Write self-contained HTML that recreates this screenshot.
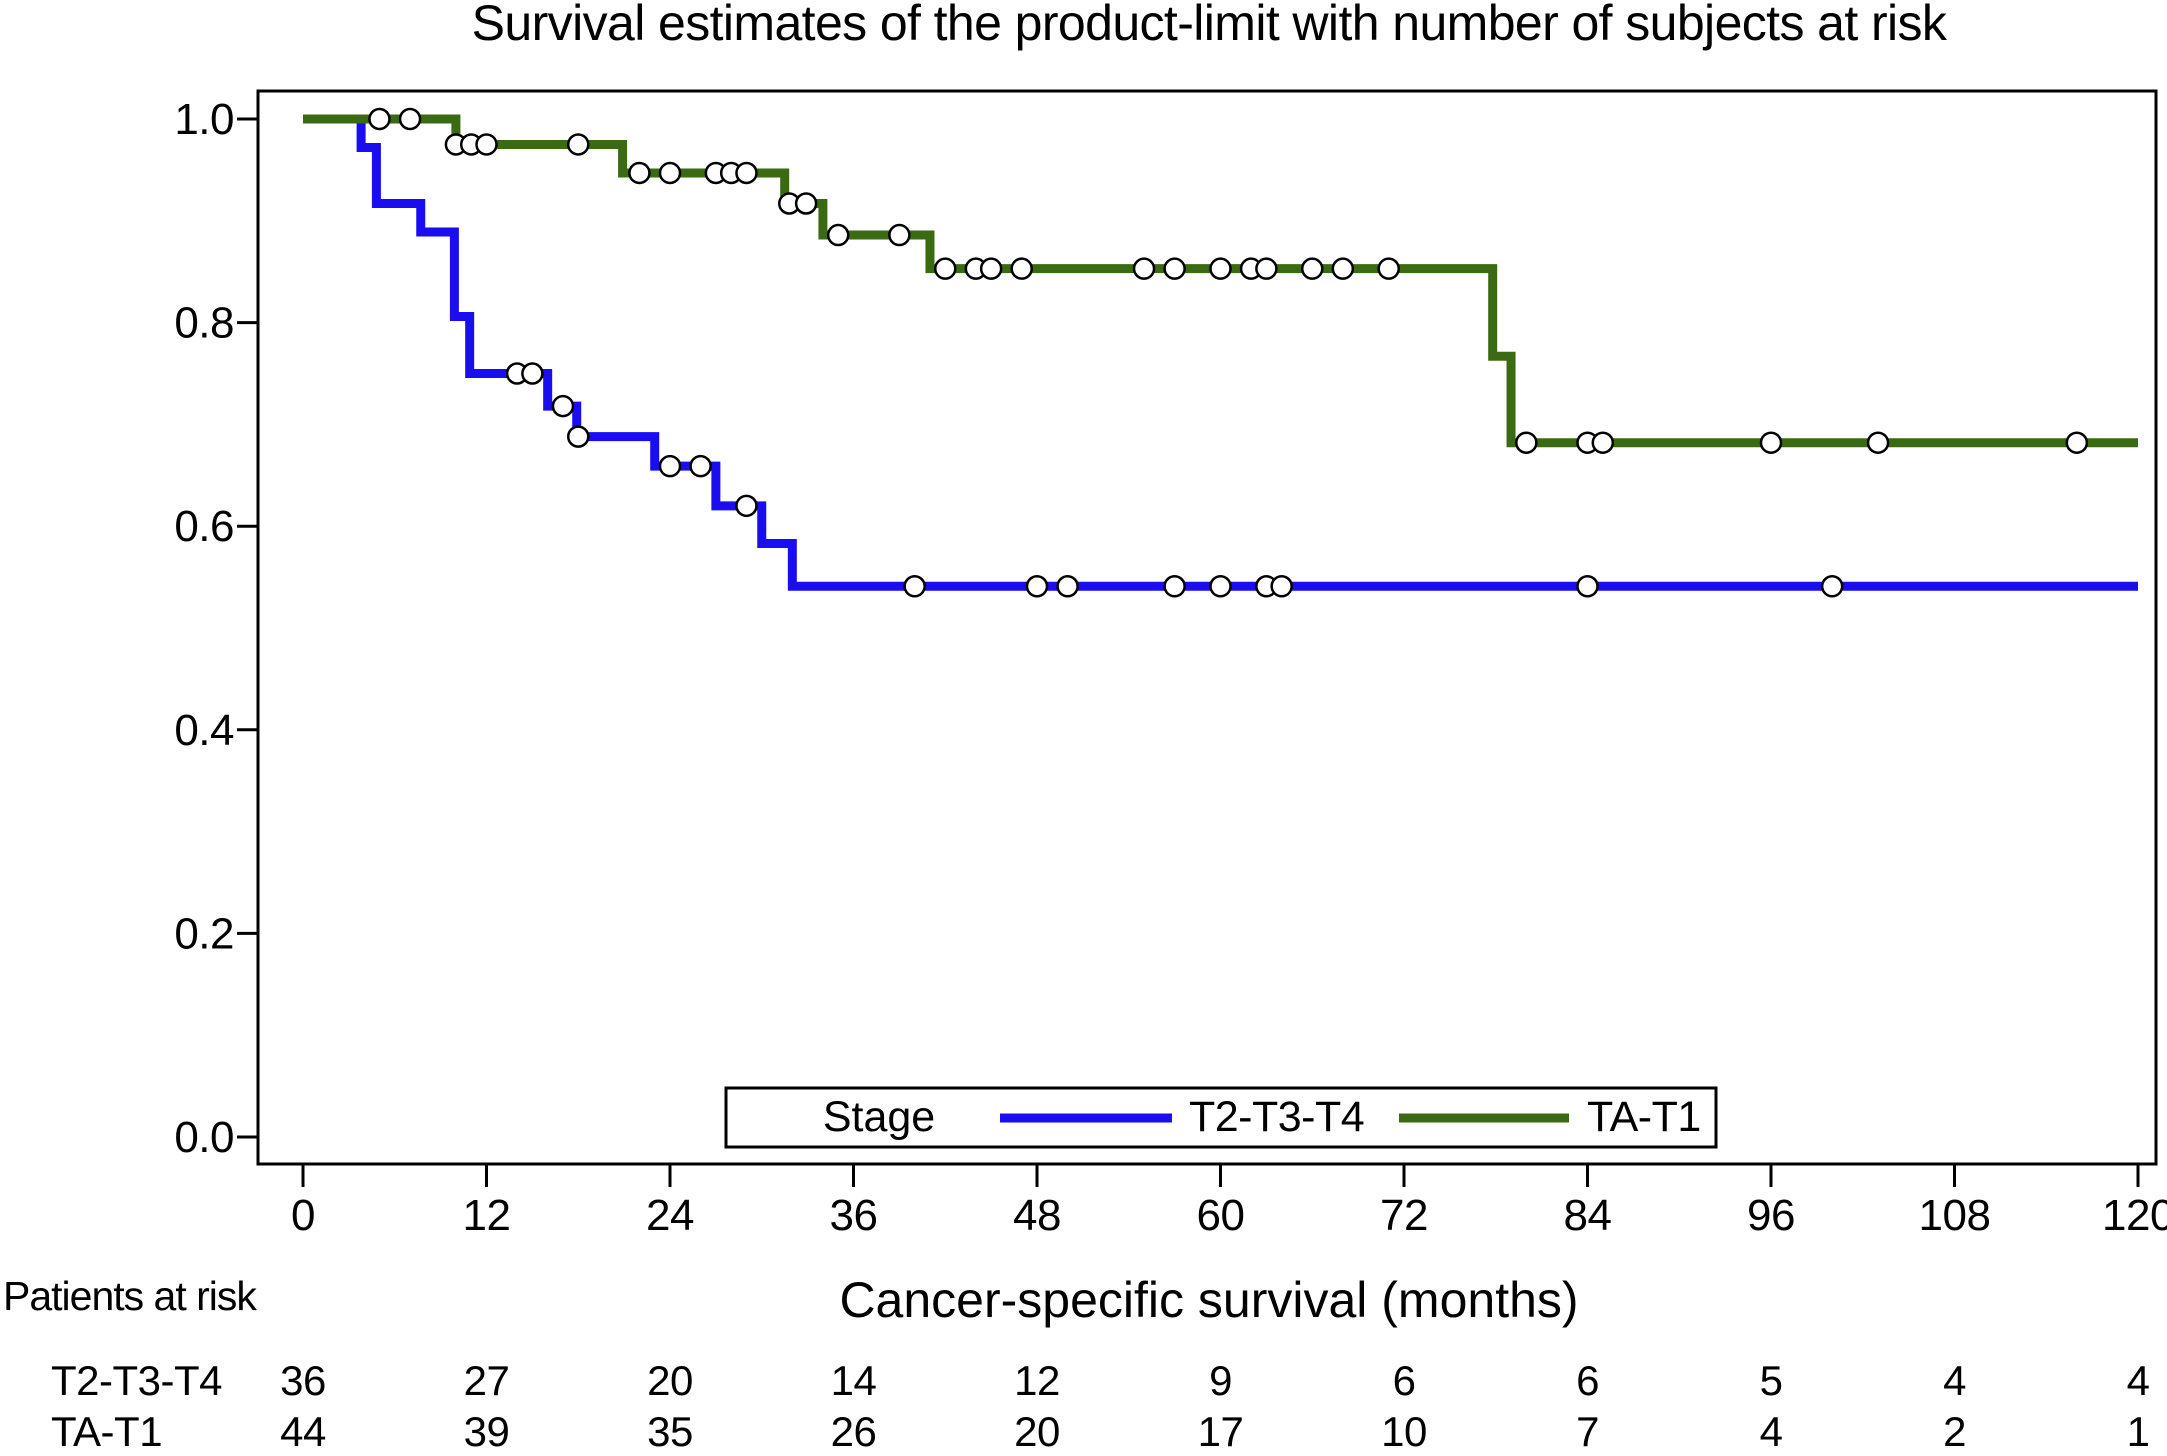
<!DOCTYPE html>
<html><head><meta charset="utf-8">
<style>
html,body{margin:0;padding:0;background:#fff;}
svg{display:block;font-family:"Liberation Sans",Arial,sans-serif;}
</style></head>
<body>
<svg id="chart" width="2167" height="1456" viewBox="0 0 2167 1456" xmlns="http://www.w3.org/2000/svg">
<text x="1209" y="40" font-size="50" text-anchor="middle" letter-spacing="-0.6">Survival estimates of the product-limit with number of subjects at risk</text>
<rect x="258" y="91" width="1898" height="1073" fill="none" stroke="#000" stroke-width="3"/>
<g id="axes"></g>
<g id="series"></g>
<g>
<rect x="726" y="1088" width="990" height="59" fill="#fff" stroke="#000" stroke-width="3"/>
<text x="879" y="1131" font-size="43" text-anchor="middle">Stage</text>
<line x1="1000" y1="1118" x2="1172" y2="1118" stroke="#1a0df0" stroke-width="9"/>
<text x="1189" y="1131" font-size="43" letter-spacing="-0.5">T2-T3-T4</text>
<line x1="1399" y1="1118" x2="1569" y2="1118" stroke="#3a6b12" stroke-width="9"/>
<text x="1587" y="1131" font-size="43" letter-spacing="-0.5">TA-T1</text>
</g>
<text x="1209" y="1317" font-size="50" text-anchor="middle">Cancer-specific survival (months)</text>
<text x="3" y="1310" font-size="41" letter-spacing="-1">Patients at risk</text>
<text x="51" y="1395" font-size="42" letter-spacing="-0.5">T2-T3-T4</text>
<text x="51" y="1446" font-size="42" letter-spacing="-0.5">TA-T1</text>
<g id="risk"></g>
</svg>
<script>
const xTicks = [0,12,24,36,48,60,72,84,96,108,120];
const yTicks = [0.0,0.2,0.4,0.6,0.8,1.0];
const riskT2 = [36,27,20,14,12,9,6,6,5,4,4];
const riskTA = [44,39,35,26,20,17,10,7,4,2,1];
// Green (TA-T1) step events: times and survival after step
const greenTimes = [0,10,20.9,31.5,34,41,77.8,79];
const greenSurv  = [1.0,0.975,0.947,0.917,0.886,0.853,0.767,0.682];
const greenCensor = [5,7,10,11,12,18,22,24,27,28,29,31.8,32.9,35,39,42,44,45,47,55,57,60,62,63,66,68,71,80,84,85,96,103,116];
// Blue (T2-T3-T4)
const blueTimes = [0,3.8,4.8,7.7,9.9,10.9,16,17.9,23,27,30,32];
const blueSurv  = [1.0,0.972,0.917,0.889,0.806,0.75,0.718,0.688,0.659,0.62,0.583,0.541];
const blueCensor = [14,15,17,18,24,26,29,40,48,50,57,60,63,64,84,100];
const maxT = 120;

const NS = "http://www.w3.org/2000/svg";
const X = t => 303 + t * (2138 - 303) / 120;
const Y = s => 1137 - s * (1137 - 119);
function mk(tag, attrs, parent){const e=document.createElementNS(NS,tag);for(const k in attrs)e.setAttribute(k,attrs[k]);parent.appendChild(e);return e;}
const axes = document.getElementById('axes');
xTicks.forEach(t=>{
  const l = mk('line',{x1:X(t),x2:X(t),y1:1164,y2:1187,stroke:'#000','stroke-width':3},axes);
  
  
  const tx = mk('text',{x:X(t),y:1230,'font-size':44,'text-anchor':'middle','letter-spacing':'-0.5'},axes);
  tx.textContent = t;
  
  
});
yTicks.forEach(v=>{
  const l = mk('line',{x1:237,x2:258,y1:Y(v),y2:Y(v),stroke:'#000','stroke-width':3},axes);
  
  
  const tx = mk('text',{x:234,y:Y(v)+15,'font-size':44,'text-anchor':'end','letter-spacing':'-0.5'},axes);
  tx.textContent = v.toFixed(1);
  
  
});
function survAt(times,surv,t){let s=surv[0];for(let i=0;i<times.length;i++){if(times[i]<=t)s=surv[i];}return s;}
const series = document.getElementById('series');
function drawLine(times,surv,color,name){
  let d = 'M'+X(times[0])+','+Y(surv[0]);
  for(let i=1;i<times.length;i++){d+=' H'+X(times[i])+' V'+Y(surv[i]);}
  d+=' H'+X(maxT);
  const p = mk('path',{d:d,fill:'none',stroke:color,'stroke-width':9,'stroke-linejoin':'miter'},series);
  
  
}
function drawCensor(times,surv,censor,name){
  censor.forEach(t=>{
    const c = mk('circle',{cx:X(t),cy:Y(survAt(times,surv,t)),r:10,fill:'#fff',stroke:'#000','stroke-width':2.5},series);
    
    
  });
}
drawLine(blueTimes,blueSurv,'#1a0df0','t2t3t4');
drawLine(greenTimes,greenSurv,'#3a6b12','tat1');
drawCensor(blueTimes,blueSurv,blueCensor,'t2t3t4');
drawCensor(greenTimes,greenSurv,greenCensor,'tat1');
const risk = document.getElementById('risk');
xTicks.forEach((t,i)=>{
  const a = mk('text',{x:X(t),y:1395,'font-size':42,'text-anchor':'middle','letter-spacing':'-0.5'},risk);
  a.textContent = riskT2[i];
  
  
  const b = mk('text',{x:X(t),y:1446,'font-size':42,'text-anchor':'middle','letter-spacing':'-0.5'},risk);
  b.textContent = riskTA[i];
  
  
});
</script>
</body></html>
